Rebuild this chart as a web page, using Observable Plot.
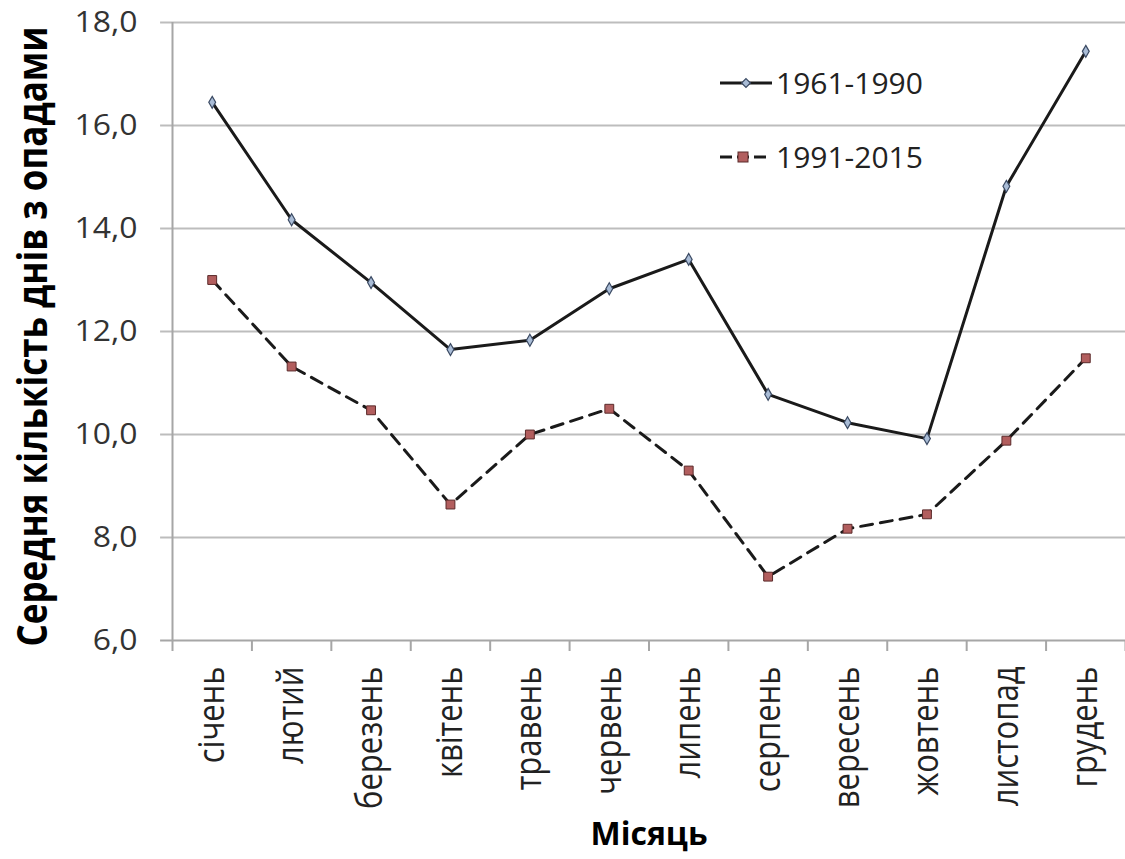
<!DOCTYPE html>
<html>
<head>
<meta charset="utf-8">
<script src="https://cdn.jsdelivr.net/npm/d3@7"></script>
<script src="https://cdn.jsdelivr.net/npm/@observablehq/plot@0.6"></script>
<style>
  html, body { margin: 0; padding: 0; background: #fff; }
  #wrap { position: relative; width: 1125px; height: 859px; }
  #legend { position: absolute; left: 0; top: 0; }
</style>
</head>
<body>
<div id="wrap"></div>
<script>
const months = ["січень","лютий","березень","квітень","травень","червень","липень","серпень","вересень","жовтень","листопад","грудень"];
const series1Name = "1961-1990";
const series2Name = "1991-2015";
const series1 = [16.45, 14.17, 12.95, 11.65, 11.83, 12.83, 13.4, 10.78, 10.23, 9.92, 14.82, 17.44];
const series2 = [13.0, 11.32, 10.47, 8.64, 10.0, 10.5, 9.3, 7.24, 8.17, 8.45, 9.88, 11.48];
const yTicks = [6, 8, 10, 12, 14, 16, 18];
const yTitle = "Середня кількість днів з опадами";
const xTitle = "Місяць";

const d1 = months.map((m, i) => ({i, v: series1[i]}));
const d2 = months.map((m, i) => ({i, v: series2[i]}));
const idx = months.map((m, i) => i);
const bounds = d3.range(0, 13).map(k => k - 0.5);
const font = "'Open Sans', sans-serif";

const chart = Plot.plot({
  width: 1125,
  height: 859,
  marginLeft: 172,
  marginRight: 0,
  marginTop: 22,
  marginBottom: 219,
  style: {fontFamily: font, background: "#fff", color: "#404040", overflow: "visible"},
  x: {domain: [-0.5, 11.5], axis: null},
  y: {domain: [6, 18], axis: null},
  marks: [
    Plot.gridY(yTicks.filter(t => t > 6), {stroke: "#bdbdbd", strokeOpacity: 1, strokeWidth: 2, x1: -0.65, x2: 11.5}),
    Plot.ruleX([-0.5], {stroke: "#a6a6a6", strokeWidth: 2}),
    Plot.ruleY([6], {stroke: "#a6a6a6", strokeWidth: 2, x1: -0.65, x2: 11.5}),
    Plot.axisY({ticks: yTicks, tickSize: 0, tickPadding: 35, fontSize: 29, fill: "#333",
      tickFormat: d => d.toFixed(1).replace(".", ","), label: null, className: "ylab"}),
    Plot.axisX({ticks: bounds, tickSize: 11, stroke: "#a6a6a6", strokeWidth: 2, tickFormat: () => "", label: null}),
    Plot.axisX({ticks: idx, tickSize: 0, tickPadding: 26, tickRotate: -90, fontSize: 31, fill: "#222",
      tickFormat: i => months[i], label: null, className: "mlab"}),
    Plot.line(d2, {x: "i", y: "v", stroke: "#1a1a1a", strokeWidth: 3, strokeDasharray: "12,8"}),
    Plot.line(d1, {x: "i", y: "v", stroke: "#1a1a1a", strokeWidth: 3}),
    Plot.dot(d1, {x: "i", y: "v", symbol: "diamond", r: 3.6, fill: "#a9bcd6", stroke: "#3b4a63", strokeWidth: 1.2}),
    Plot.dot(d2, {x: "i", y: "v", symbol: "square", r: 5, fill: "#b25e5e", stroke: "#5a2a2a", strokeWidth: 1}),
    Plot.text([yTitle], {frameAnchor: "left", textAnchor: "middle", dx: -138, dy: 5, rotate: -90, fontSize: 35, fontWeight: "bold", fill: "#000", className: "ytitle"}),
    Plot.text([xTitle], {frameAnchor: "bottom", textAnchor: "middle", dy: 204, fontSize: 32, fontWeight: "bold", fill: "#000"})
  ]
});
document.getElementById("wrap").appendChild(chart);

// mimic the reference's slightly widened lettering
const svg = d3.select(chart);
svg.selectAll(".mlab text, .ytitle text").attr("transform", function() {
  return (this.getAttribute("transform") || "") + " scale(1,1.15)";
});
svg.selectAll(".ylab text").attr("transform", function() {
  return (this.getAttribute("transform") || "") + " scale(1.1,1)";
});

// legend overlay
const lg = d3.select("#wrap").append("svg").attr("id", "legend").attr("width", 1125).attr("height", 859)
  .style("font-family", font);
const items = [
  {name: series1Name, y: 83, dash: null, sym: "diamond"},
  {name: series2Name, y: 157, dash: "12,8", sym: "square"}
];
items.forEach(it => {
  lg.append("line").attr("x1", 720).attr("x2", it.dash ? 766 : 772).attr("y1", it.y).attr("y2", it.y)
    .attr("stroke", "#1a1a1a").attr("stroke-width", 3).attr("stroke-dasharray", it.dash ? "12,5" : null);
  if (it.sym === "diamond") {
    lg.append("path").attr("d", d3.symbol(d3.symbolDiamond2, 50)()).attr("transform", `translate(746,${it.y})`)
      .attr("fill", "#a9bcd6").attr("stroke", "#3b4a63").attr("stroke-width", 1.2);
  } else {
    lg.append("rect").attr("x", 738).attr("y", it.y - 5).attr("width", 10).attr("height", 10)
      .attr("fill", "#b25e5e").attr("stroke", "#5a2a2a");
  }
  lg.append("text").attr("x", 776).attr("y", it.y).attr("dy", "0.35em").attr("font-size", 30)
    .attr("fill", "#222").text(it.name);
});
</script>
</body>
</html>
